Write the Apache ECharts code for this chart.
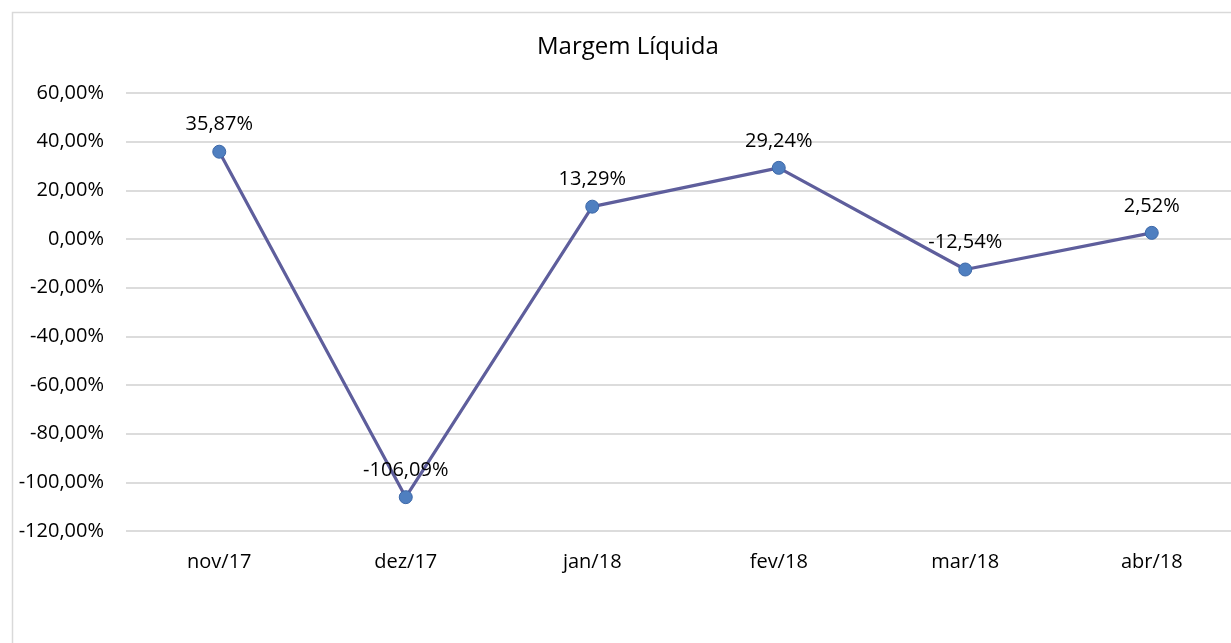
<!DOCTYPE html>
<html><head><meta charset="utf-8">
<script src="https://cdn.jsdelivr.net/npm/echarts@6/dist/echarts.min.js"></script>
<style>html,body{margin:0;padding:0;background:#fff;overflow:hidden;width:1231px;height:643px}#c{width:1245px;height:643px}</style>
</head><body><div id="c"></div>
<script>
const categories = ['nov/17','dez/17','jan/18','fev/18','mar/18','abr/18'];
const values = [35.87, -106.09, 13.29, 29.24, -12.54, 2.52];
const title = 'Margem Líquida';
const fmt = v => v.toFixed(2).replace('.', ',') + '%';
const FONT = '"Open Sans", "Liberation Sans", sans-serif';
const chart = echarts.init(document.getElementById('c'), null, {renderer:'canvas'});
chart.setOption({
  animation: false,
  backgroundColor: '#fff',
  graphic: [{type:'rect', left:10, top:10, shape:{width:1300, height:700}, style:{fill:'none', stroke:'#d9d9d9', lineWidth:1.5}, z:-1}],
  title: {text: title, left: 532, top: 30, textStyle:{fontFamily:FONT, fontSize:24, fontWeight:'normal', color:'#000'}},
  grid: {left:126, top:93, right:0, height:438},
  xAxis: {type:'category', data:categories, boundaryGap:true,
    axisLine:{show:false}, axisTick:{show:false},
    axisLabel:{fontFamily:FONT, fontSize:20, color:'#000', margin:21}},
  yAxis: {type:'value', min:-120, max:60, interval:20,
    axisLine:{show:false}, axisTick:{show:false},
    splitLine:{lineStyle:{color:'#d0d0d0', width:1.5}},
    axisLabel:{fontFamily:FONT, fontSize:20, color:'#000', margin:22, formatter: v => fmt(v)}},
  series: [{type:'line', data:values, symbol:'circle', symbolSize:13,
    lineStyle:{color:'#5e5e9c', width:3.2},
    itemStyle:{color:'#4f7fc0', borderColor:'#3d68a8', borderWidth:1},
    label:{show:true, position:'top', distance:10, fontFamily:FONT, fontSize:20, color:'#000', formatter: p => fmt(p.value)}}]
});
</script></body></html>
